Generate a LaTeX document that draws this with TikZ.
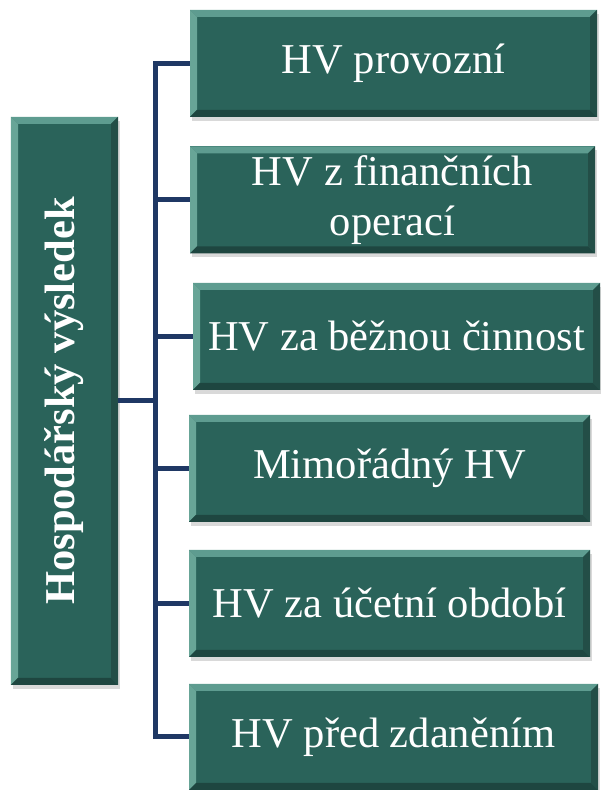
\documentclass[tikz,border=0pt]{standalone}
\usepackage{fontspec}
\setmainfont{Liberation Serif}
\usepackage{tikz}
\usetikzlibrary{shadows}
\definecolor{hvgreen}{HTML}{2A635A}
\definecolor{hvtop}{HTML}{5E9C90}
\definecolor{hvleft}{HTML}{68A597}
\definecolor{hvbottom}{HTML}{1E4640}
\definecolor{hvright}{HTML}{234E47}
\definecolor{hvline}{HTML}{1F3864}
\def\bv{0.14cm}
\newcommand\hvbevel{%
  \coordinate (bvnw) at (path picture bounding box.north west);
  \coordinate (bvne) at (path picture bounding box.north east);
  \coordinate (bvsw) at (path picture bounding box.south west);
  \coordinate (bvse) at (path picture bounding box.south east);
  \fill[hvtop]    (bvnw) -- (bvne) -- ([shift={(-\bv,-\bv)}]bvne) -- ([shift={(\bv,-\bv)}]bvnw) -- cycle;
  \fill[hvleft]   (bvnw) -- ([shift={(\bv,-\bv)}]bvnw) -- ([shift={(\bv,\bv)}]bvsw) -- (bvsw) -- cycle;
  \fill[hvbottom] (bvsw) -- (bvse) -- ([shift={(-\bv,\bv)}]bvse) -- ([shift={(\bv,\bv)}]bvsw) -- cycle;
  \fill[hvright]  (bvne) -- (bvse) -- ([shift={(-\bv,\bv)}]bvse) -- ([shift={(-\bv,-\bv)}]bvne) -- cycle;
}
\tikzset{hvbox/.style={fill=hvgreen,text=white,inner sep=0pt,align=center,
    minimum height=2.14cm,
    font=\fontsize{24.2pt}{28.5pt}\selectfont,
    drop shadow={shadow xshift=0.04cm,shadow yshift=-0.08cm,opacity=0.3},
    path picture={\hvbevel}},
  hvbranch/.style={hvline,line width=0.1cm}}

\begin{document}
\begin{tikzpicture}
  \useasboundingbox (0,0) rectangle (12,15.8);

  \node [hvbox,minimum width=2.14cm,minimum height=11.36cm] (hv) at (1.29,7.78)
        {\rotatebox{90}{\bfseries Hospodářský výsledek}};

  \node [hvbox,minimum width=8.14cm] (b1) at (7.87,14.53) {HV provozní};
  \node [hvbox,minimum width=8.10cm] (b2) at (7.85,11.80) {HV z finančních\\operací};
  \node [hvbox,minimum width=8.14cm] (b3) at (7.93,9.07)  {HV za běžnou činnost};
  \node [hvbox,minimum width=8.02cm] (b4) at (7.79,6.43)  {Mimořádný HV};
  \node [hvbox,minimum width=8.02cm] (b5) at (7.79,3.73)  {HV za účetní období};
  \node [hvbox,minimum width=8.18cm,minimum height=2.12cm] (b6) at (7.87,1.06) {HV před zdaněním};

  \coordinate (trunk) at (3.10,7.78);
  \draw [hvbranch] (hv.east) -- (trunk);
  \foreach \b in {b1,b2,b3,b4,b5,b6}
    \draw [hvbranch] (trunk) |- (\b.west);
\end{tikzpicture}
\end{document}
